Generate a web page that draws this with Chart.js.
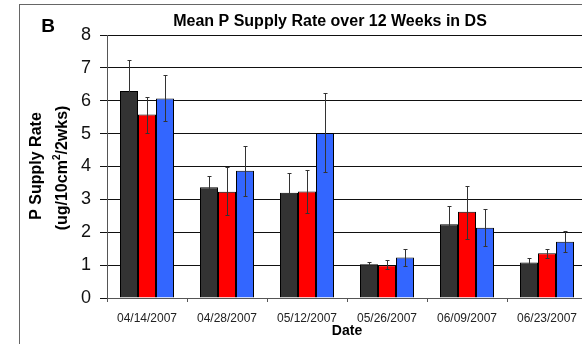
<!DOCTYPE html>
<html>
<head>
<meta charset="utf-8">
<script src="https://cdn.jsdelivr.net/npm/chart.js@4"></script>
<style>
  html, body { margin: 0; padding: 0; background: #fff; overflow: hidden; }
  #wrap { width: 582px; height: 344px; overflow: hidden; }
</style>
</head>
<body>
<div id="wrap"><canvas id="supply" width="592" height="344"></canvas></div>
<script>
const dates = ["04/14/2007", "04/28/2007", "05/12/2007", "05/26/2007", "06/09/2007", "06/23/2007"];

// series means + error bar ends
const black_mean = [6.30, 3.37, 3.20, 1.03, 2.24, 1.08];
const black_hi = [7.23, 3.71, 3.81, 1.10, 2.80, 1.22];
const black_lo = [5.40, 3.04, 2.61, 0.97, 1.67, 0.93];

const red_mean = [5.58, 3.23, 3.24, 1.00, 2.62, 1.36];
const red_hi = [6.11, 3.97, 3.89, 1.15, 3.40, 1.50];
const red_lo = [5.03, 2.52, 2.59, 0.88, 1.80, 1.23];

const blue_mean = [6.07, 3.87, 5.02, 1.23, 2.14, 1.71];
const blue_hi = [6.77, 4.63, 6.25, 1.50, 2.71, 2.03];
const blue_lo = [5.38, 3.11, 3.84, 0.98, 1.58, 1.39];

const y_ticks = [0, 1, 2, 3, 4, 5, 6, 7, 8];

const errors = [
  { hi: black_hi, lo: black_lo },
  { hi: red_hi, lo: red_lo },
  { hi: blue_hi, lo: blue_lo },
];

// error bars + frame + loose texts
const extras = {
  id: "extras",
  afterDatasetsDraw(chart) {
    const ctx = chart.ctx;
    const y = chart.scales.y;
    ctx.save();
    ctx.strokeStyle = "#333";
    ctx.lineWidth = 1;
    errors.forEach((err, i) => {
      chart.getDatasetMeta(i).data.forEach((bar, j) => {
        const x = Math.round(bar.x) + 0.5;
        const top = Math.round(y.getPixelForValue(err.hi[j])) + 0.5;
        const bot = Math.round(y.getPixelForValue(err.lo[j])) + 0.5;
        ctx.beginPath();
        ctx.moveTo(x, top);
        ctx.lineTo(x, bot);
        ctx.moveTo(x - 2, top);
        ctx.lineTo(x + 2, top);
        ctx.moveTo(x - 2, bot);
        ctx.lineTo(x + 2, bot);
        ctx.stroke();
      });
    });
    ctx.restore();
  },
  afterDraw(chart) {
    const ctx = chart.ctx;
    ctx.save();
    ctx.strokeStyle = "#666";
    ctx.lineWidth = 1;
    ctx.strokeRect(19.5, 4.5, 700, 500);

    ctx.fillStyle = "#000";
    ctx.textAlign = "center";
    ctx.textBaseline = "middle";
    ctx.font = "bold 19px 'Liberation Sans', Arial";
    ctx.fillText("B", 48, 27);

    ctx.font = "bold 16px 'Liberation Sans', Arial";
    ctx.fillText("Mean P Supply Rate over 12 Weeks in DS", 330, 22);
    ctx.font = "bold 14px 'Liberation Sans', Arial";
    ctx.fillText("Date", 347, 331);

    // y title, two lines rotated
    ctx.font = "bold 16px 'Liberation Sans', Arial";
    ctx.translate(37, 166);
    ctx.rotate(-Math.PI / 2);
    ctx.fillText("P Supply Rate", 0, 0);
    ctx.restore();

    ctx.save();
    ctx.fillStyle = "#000";
    ctx.textBaseline = "middle";
    ctx.translate(63, 168);
    ctx.rotate(-Math.PI / 2);
    const big = "bold 16px 'Liberation Sans', Arial";
    const small = "bold 10px 'Liberation Sans', Arial";
    ctx.font = big;
    const w1 = ctx.measureText("(ug/10cm").width;
    const w3 = ctx.measureText("/2wks)").width;
    ctx.font = small;
    const w2 = ctx.measureText("2").width;
    let px = -(w1 + w2 + w3) / 2;
    ctx.textAlign = "left";
    ctx.font = big;
    ctx.fillText("(ug/10cm", px, 0);
    px += w1;
    ctx.font = small;
    ctx.fillText("2", px, -6);
    px += w2;
    ctx.font = big;
    ctx.fillText("/2wks)", px, 0);
    ctx.restore();
  },
};

const bar_style = {
  borderWidth: 1,
  borderColor: "#000",
  categoryPercentage: 0.675,
  barPercentage: 1,
};

new Chart(document.getElementById("supply"), {
  type: "bar",
  data: {
    labels: dates,
    datasets: [
      { label: "A", data: black_mean, backgroundColor: "#333333", ...bar_style },
      { label: "B", data: red_mean, backgroundColor: "#FF0000", ...bar_style },
      { label: "C", data: blue_mean, backgroundColor: "#3366FF", ...bar_style },
    ],
  },
  options: {
    responsive: false,
    animation: false,
    layout: {
      padding: { left: 67, right: 5, top: 35, bottom: 0 },
    },
    scales: {
      x: {
        grid: {
          offset: true,
          drawOnChartArea: false,
          tickLength: 4,
          color: "#555",
        },
        border: { color: "#555" },
        ticks: {
          color: "#222",
          font: { family: "'Liberation Sans', Arial", size: 12 },
          maxRotation: 0,
          padding: 9,
        },
        afterFit: function (scale) {
          scale.height = 46;
        },
      },
      y: {
        min: 0,
        max: 8,
        afterBuildTicks: function (scale) {
          scale.ticks = y_ticks.map((v) => ({ value: v }));
        },
        grid: {
          color: "#111",
          tickLength: 7,
        },
        border: { color: "#555" },
        ticks: {
          color: "#111",
          font: { family: "'Liberation Sans', Arial", size: 18 },
          padding: 9,
        },
        afterFit: function (scale) {
          scale.width = 40;
        },
      },
    },
    plugins: {
      legend: { display: false },
      tooltip: { enabled: false },
    },
  },
  plugins: [extras],
});
</script>
</body>
</html>
